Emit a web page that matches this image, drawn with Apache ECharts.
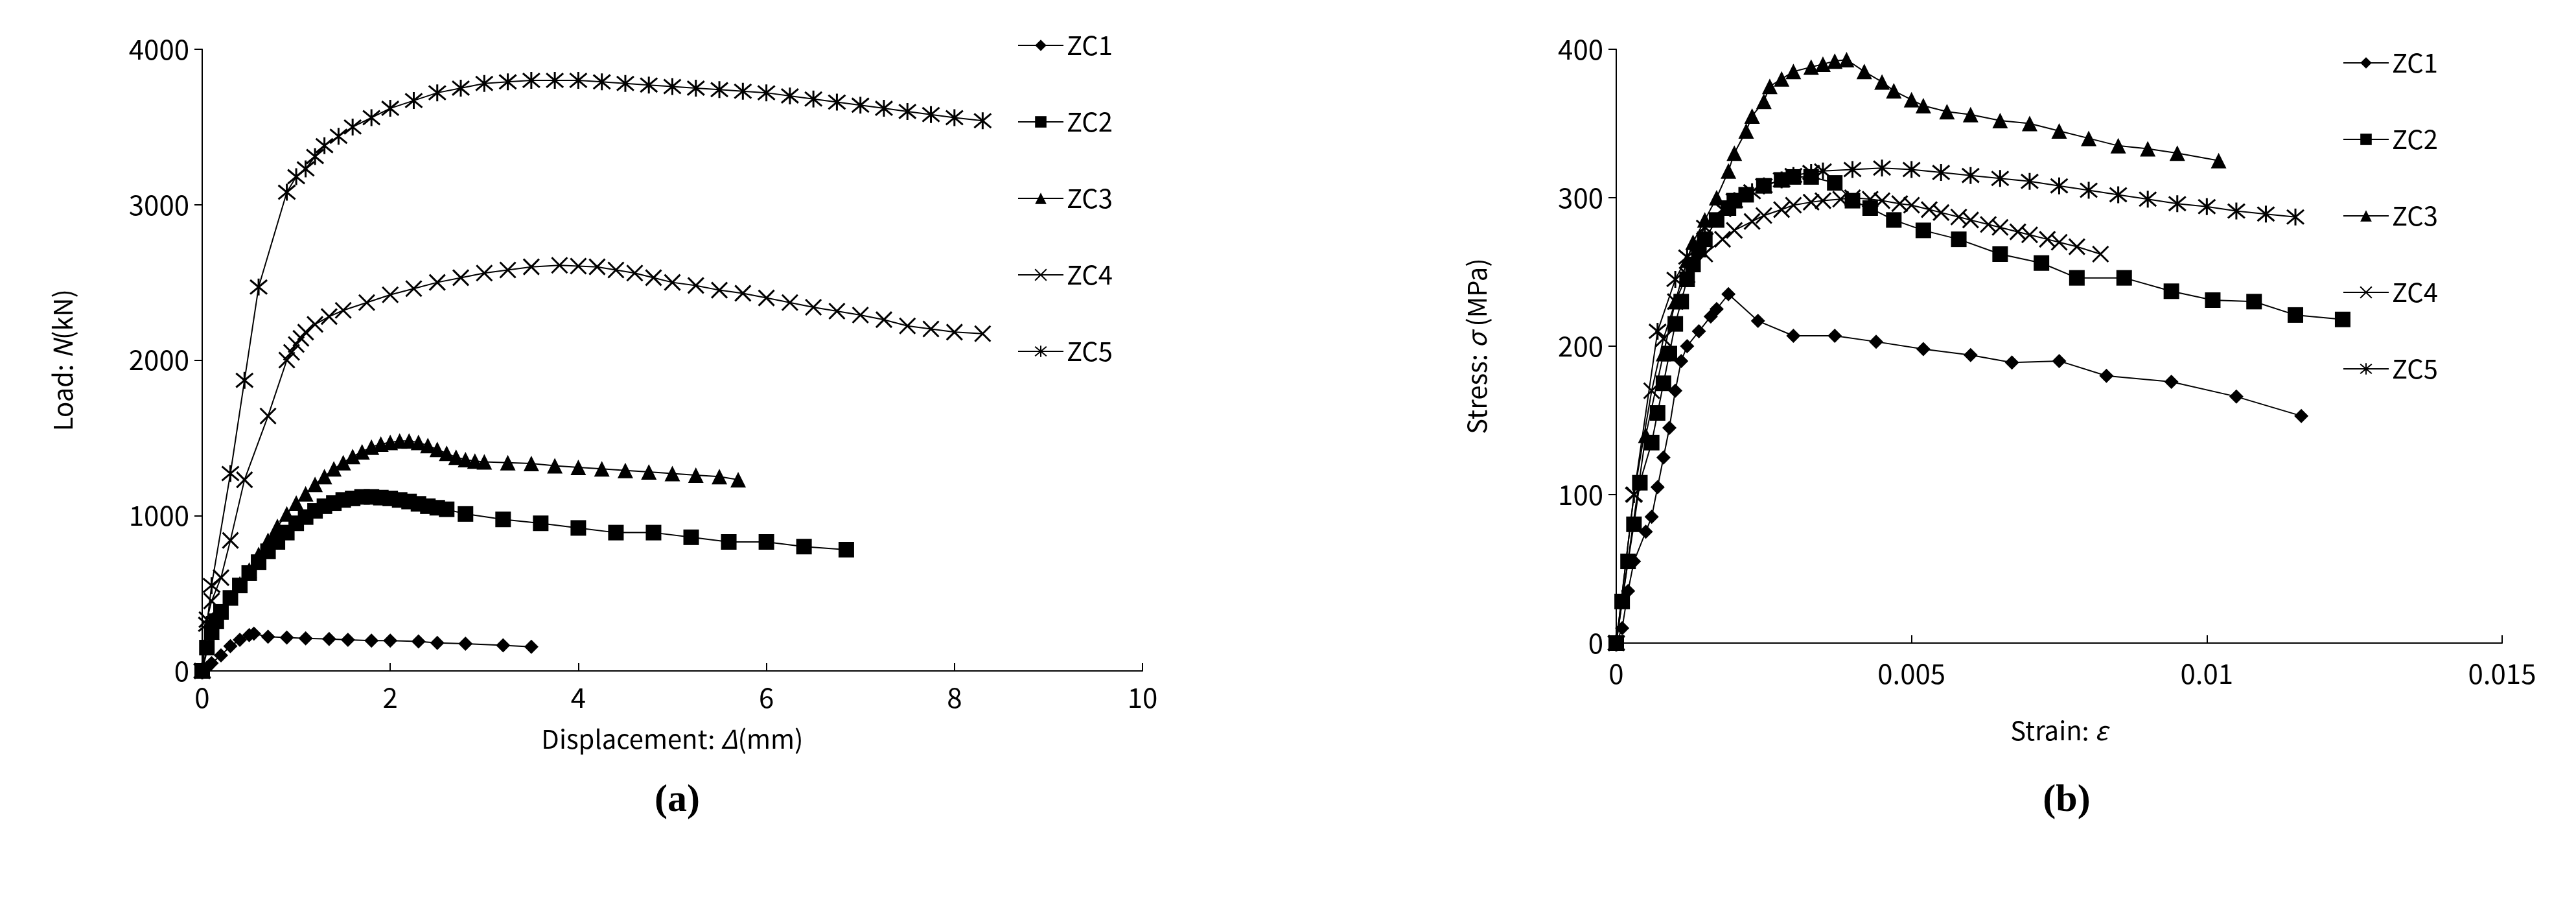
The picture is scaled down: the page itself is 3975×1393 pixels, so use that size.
<!DOCTYPE html>
<html>
<head>
<meta charset="utf-8">
<script src="https://cdn.jsdelivr.net/npm/echarts@6/dist/echarts.min.js"></script>
<style>html,body{margin:0;padding:0;background:#fff}#main{width:3975px;height:1393px}</style>
</head>
<body>
<div id="main"></div>
<script>
// (a) displacement (mm) vs load (kN)
var a_zc1 = [[0,0],[0.05,20],[0.1,50],[0.2,100],[0.3,160],[0.4,200],[0.5,230],[0.55,240],[0.7,220],[0.9,215],[1.1,210],[1.35,205],[1.55,200],[1.8,195],[2.0,195],[2.3,190],[2.5,180],[2.8,175],[3.2,165],[3.5,155]];
var a_zc2 = [[0,0],[0.05,150],[0.1,250],[0.15,320],[0.2,380],[0.3,470],[0.4,550],[0.5,630],[0.6,700],[0.7,770],[0.8,830],[0.9,890],[1.0,950],[1.1,990],[1.2,1030],[1.3,1060],[1.4,1080],[1.5,1100],[1.6,1110],[1.7,1120],[1.8,1120],[1.9,1115],[2.0,1110],[2.1,1100],[2.2,1090],[2.3,1075],[2.4,1060],[2.5,1050],[2.6,1040],[2.8,1010],[3.2,975],[3.6,950],[4.0,920],[4.4,890],[4.8,890],[5.2,860],[5.6,830],[6.0,830],[6.4,800],[6.85,780]];
var a_zc3 = [[0,0],[0.1,250],[0.2,380],[0.3,470],[0.4,560],[0.5,650],[0.6,750],[0.7,840],[0.8,930],[0.9,1010],[1.0,1080],[1.1,1140],[1.2,1200],[1.3,1250],[1.4,1300],[1.5,1340],[1.6,1380],[1.7,1410],[1.8,1440],[1.9,1460],[2.0,1470],[2.1,1480],[2.2,1480],[2.3,1470],[2.4,1450],[2.5,1425],[2.6,1400],[2.7,1375],[2.8,1360],[2.9,1350],[3.0,1345],[3.25,1340],[3.5,1335],[3.75,1320],[4.0,1310],[4.25,1300],[4.5,1290],[4.75,1280],[5.0,1270],[5.25,1260],[5.5,1250],[5.7,1230]];
var a_zc4 = [[0,0],[0.05,330],[0.1,450],[0.2,600],[0.3,840],[0.45,1230],[0.7,1640],[0.9,2000],[0.95,2050],[1.0,2100],[1.05,2140],[1.1,2180],[1.2,2230],[1.35,2280],[1.5,2320],[1.75,2370],[2.0,2420],[2.25,2460],[2.5,2500],[2.75,2530],[3.0,2560],[3.25,2580],[3.5,2600],[3.8,2610],[4.0,2605],[4.2,2600],[4.4,2580],[4.6,2560],[4.8,2530],[5.0,2500],[5.25,2480],[5.5,2450],[5.75,2430],[6.0,2400],[6.25,2370],[6.5,2340],[6.75,2315],[7.0,2290],[7.25,2260],[7.5,2220],[7.75,2200],[8.0,2180],[8.3,2170]];
var a_zc5 = [[0,0],[0.05,300],[0.1,550],[0.3,1270],[0.45,1870],[0.6,2470],[0.9,3080],[1.0,3180],[1.1,3230],[1.2,3310],[1.3,3380],[1.45,3440],[1.6,3500],[1.8,3560],[2.0,3620],[2.25,3670],[2.5,3720],[2.75,3750],[3.0,3780],[3.25,3790],[3.5,3800],[3.75,3800],[4.0,3800],[4.25,3790],[4.5,3780],[4.75,3770],[5.0,3760],[5.25,3750],[5.5,3740],[5.75,3730],[6.0,3720],[6.25,3700],[6.5,3680],[6.75,3660],[7.0,3640],[7.25,3620],[7.5,3600],[7.75,3580],[8.0,3560],[8.3,3540]];

// (b) strain vs stress (MPa)
var b_zc1 = [[0,0],[0.0001,10],[0.0002,35],[0.0003,55],[0.0005,75],[0.0006,85],[0.0007,105],[0.0008,125],[0.0009,145],[0.001,170],[0.0011,190],[0.0012,200],[0.0014,210],[0.0016,220],[0.0017,225],[0.0019,235],[0.0024,217],[0.003,207],[0.0037,207],[0.0044,203],[0.0052,198],[0.006,194],[0.0067,189],[0.0075,190],[0.0083,180],[0.0094,176],[0.0105,166],[0.0116,153]];
var b_zc2 = [[0,0],[0.0001,28],[0.0002,55],[0.0003,80],[0.0004,108],[0.0006,135],[0.0007,155],[0.0008,175],[0.0009,195],[0.001,215],[0.0011,230],[0.0012,245],[0.0013,255],[0.0014,265],[0.0015,272],[0.0017,285],[0.0019,293],[0.002,298],[0.0022,302],[0.0025,308],[0.0028,312],[0.003,314],[0.0033,314],[0.0037,310],[0.004,298],[0.0043,293],[0.0047,285],[0.0052,278],[0.0058,272],[0.0065,262],[0.0072,256],[0.0078,246],[0.0086,246],[0.0094,237],[0.0101,231],[0.0108,230],[0.0115,221],[0.0123,218]];
var b_zc3 = [[0,0],[0.0005,140],[0.0008,195],[0.001,230],[0.0012,258],[0.0013,270],[0.0015,285],[0.0017,300],[0.0019,318],[0.002,330],[0.0022,345],[0.0023,355],[0.0025,365],[0.0026,375],[0.0028,380],[0.003,385],[0.0033,388],[0.0035,390],[0.0037,392],[0.0039,393],[0.0042,385],[0.0045,378],[0.0047,372],[0.005,366],[0.0052,362],[0.0056,358],[0.006,356],[0.0065,352],[0.007,350],[0.0075,345],[0.008,340],[0.0085,335],[0.009,333],[0.0095,330],[0.0102,325]];
var b_zc4 = [[0,0],[0.0003,100],[0.0006,170],[0.0008,205],[0.001,230],[0.0012,248],[0.0015,262],[0.0018,272],[0.002,278],[0.0023,284],[0.0025,288],[0.0028,292],[0.003,295],[0.0033,297],[0.0035,298],[0.0038,299],[0.004,300],[0.0043,299],[0.0045,298],[0.0048,296],[0.005,295],[0.0053,292],[0.0055,290],[0.0058,287],[0.006,285],[0.0063,282],[0.0065,280],[0.0068,277],[0.007,275],[0.0073,272],[0.0075,270],[0.0078,267],[0.0082,262]];
var b_zc5 = [[0,0],[0.0003,100],[0.0007,210],[0.001,245],[0.0012,260],[0.0015,280],[0.0018,292],[0.002,298],[0.0023,304],[0.0025,308],[0.0028,312],[0.003,315],[0.0033,317],[0.0035,318],[0.004,319],[0.0045,320],[0.005,319],[0.0055,317],[0.006,315],[0.0065,313],[0.007,311],[0.0075,308],[0.008,305],[0.0085,302],[0.009,299],[0.0095,296],[0.01,294],[0.0105,291],[0.011,289],[0.0115,287]];

var names = ['ZC1','ZC2','ZC3','ZC4','ZC5'];
var xSym = 'path://M0,0L10,10M10,0L0,10';
var aSym = 'path://M0,0L10,10M10,0L0,10M5,-1L5,11';
var symbols = ['diamond','rect','triangle',xSym,aSym];
var sizes = [22,24,24,24,26];
var font = '"Noto Sans CJK SC", "DejaVu Sans", sans-serif';

var myChart = echarts.init(document.getElementById('main'));

function mkSeries(data, idx, i) {
  var open = i >= 3;
  return {
    name: names[i], type: 'line', xAxisIndex: idx, yAxisIndex: idx,
    data: data, symbol: symbols[i], symbolSize: sizes[i], showSymbol: true,
    lineStyle: {color: '#000', width: 2},
    itemStyle: open ? {color: 'none', borderColor: '#000', borderWidth: 3} : {color: '#000', borderColor: '#000', borderWidth: 0},
    animation: false
  };
}

var axisCommon = {
  axisLine: {show: true, lineStyle: {color: '#000', width: 2}},
  splitLine: {show: false},
  axisLabel: {color: '#000', fontSize: 42, fontFamily: font, margin: 20, formatter: function(v){return String(v);}},
  nameTextStyle: {color: '#000', fontSize: 40, fontFamily: font}
};

var legendCommon = {
  orient: 'vertical', itemWidth: 70, itemHeight: 22, itemGap: 78,
  textStyle: {color: '#000', fontSize: 40, fontFamily: font},
  data: names
};

var richName = {color: '#000', fontSize: 40, fontFamily: font, rich: {i: {fontStyle: 'italic', fontSize: 40, fontFamily: font}}};

myChart.setOption({
  backgroundColor: '#fff',
  title: [
    {text: '(a)', left: 1040, top: 1200, textAlign: 'center', textStyle: {fontSize: 60, fontWeight: 'bold', fontFamily: 'Liberation Serif', color: '#000'}},
    {text: '(b)', left: 3184, top: 1200, textAlign: 'center', textStyle: {fontSize: 60, fontWeight: 'bold', fontFamily: 'Liberation Serif', color: '#000'}}
  ],
  legend: [
    Object.assign({left: 1565, top: 45, seriesIndex: [0,1,2,3,4]}, legendCommon),
    Object.assign({left: 3610, top: 72}, legendCommon)
  ],
  grid: [
    {left: 312, top: 76, width: 1451, height: 959},
    {left: 2494, top: 76, width: 1367, height: 916}
  ],
  xAxis: [
    Object.assign({}, axisCommon, {gridIndex: 0, type: 'value', min: 0, max: 10, interval: 2,
      axisTick: {show: true, inside: true, length: 12, lineStyle: {color: '#000', width: 2}},
      name: 'Displacement: {i|Δ}(mm)', nameLocation: 'middle', nameGap: 85, nameTextStyle: richName}),
    Object.assign({}, axisCommon, {gridIndex: 1, type: 'value', min: 0, max: 0.015, interval: 0.005,
      axisTick: {show: true, inside: true, length: 12, lineStyle: {color: '#000', width: 2}},
      axisLabel: {color: '#000', fontSize: 42, fontFamily: font, margin: 26, formatter: function(v){return String(+v.toFixed(3));}},
      name: 'Strain: {i|ε}', nameLocation: 'middle', nameGap: 115, nameTextStyle: richName})
  ],
  yAxis: [
    Object.assign({}, axisCommon, {gridIndex: 0, type: 'value', min: 0, max: 4000, interval: 1000,
      axisTick: {show: true, length: 12, lineStyle: {color: '#000', width: 2}},
      name: 'Load: {i|N}(kN)', nameLocation: 'middle', nameGap: 195, nameTextStyle: richName}),
    Object.assign({}, axisCommon, {gridIndex: 1, type: 'value', min: 0, max: 400, interval: 100,
      axisTick: {show: true, length: 12, lineStyle: {color: '#000', width: 2}},
      name: 'Stress: {i|σ} (MPa)', nameLocation: 'middle', nameGap: 195, nameTextStyle: richName})
  ],
  series: [
    mkSeries(a_zc1, 0, 0), mkSeries(a_zc2, 0, 1), mkSeries(a_zc3, 0, 2), mkSeries(a_zc4, 0, 3), mkSeries(a_zc5, 0, 4),
    mkSeries(b_zc1, 1, 0), mkSeries(b_zc2, 1, 1), mkSeries(b_zc3, 1, 2), mkSeries(b_zc4, 1, 3), mkSeries(b_zc5, 1, 4)
  ]
});
</script>
</body>
</html>
